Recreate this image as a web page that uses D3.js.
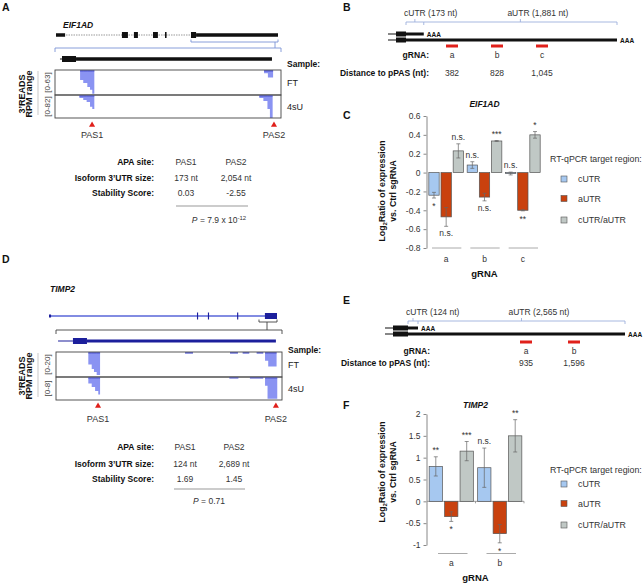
<!DOCTYPE html>
<html>
<head>
<meta charset="utf-8">
<script src="https://cdn.jsdelivr.net/npm/d3@7"></script>
<style>
  body { margin: 0; background: #fff; }
  svg text { font-family: "Liberation Sans", Arial, Helvetica, sans-serif; }
</style>
</head>
<body>
<svg id="fig" width="644" height="583"></svg>
<script>
// ---------- data ----------
// gene models, [start %, end %, part] along the locus
var eifGene = [[0, 4.1, "utr"], [29.7, 32.4, "cds"], [35.1, 36.9, "cds"], [43.7, 45.9, "cds"],
               [49.1, 49.8, "cds"], [60.8, 63.1, "cds"], [63.1, 100, "utr"]];
var eifTx = [[2.2, 3.1, "line"], [3.1, 9.3, "cds"], [9.3, 96.0, "utr"]];
var timpGene = [[0, 0.9, "utr"], [64.9, 65.4, "tick"], [69.7, 70.2, "tick"], [82.5, 83.0, "tick"], [94.7, 100, "cds"]];
var timpTx = [[0.9, 7.5, "line"], [7.5, 13.7, "cds"], [13.7, 97.3, "utr"]];

// 3'READS coverage, [start %, end %, RPM]
var eifFT = [[11.1, 12.5, 25], [12.5, 14.3, 33], [14.3, 15.5, 43], [15.5, 16.5, 50], [16.5, 17.4, 60],
             [92.5, 94.2, 8], [94.2, 96.5, 19]];
var eif4sU = [[10.8, 12.5, 11], [12.5, 14.0, 18], [14.0, 15.5, 25], [15.5, 16.5, 42], [16.5, 17.4, 50],
              [90.4, 92.2, 11], [92.2, 94.0, 21], [94.0, 95.1, 50], [95.1, 96.3, 82]];
var timpFT = [[14.3, 15.8, 10], [15.8, 16.8, 13.6], [16.8, 18.0, 16], [18.0, 19.5, 18.4],
              [57.1, 60.6, 1], [77.0, 80.5, 1], [82.6, 85.5, 1], [88.8, 91.7, 1],
              [92.5, 93.9, 7], [93.9, 97.6, 11.5]];
var timp4sU = [[14.3, 15.8, 2.3], [15.8, 17.3, 3.5], [17.3, 18.7, 4.9], [18.7, 19.5, 6.1],
               [76.7, 80.7, 0.3], [85.8, 91.7, 0.3], [92.5, 93.6, 3], [93.6, 97.9, 7.6]];
var eifPAS = [16.4, 96.9];
var timpPAS = [18.6, 97.3];

// APA tables
var tableRows = ["APA site:", "Isoform 3\u2019UTR size:", "Stability Score:"];
var eifTable = [["PAS1", "PAS2"], ["173 nt", "2,054 nt"], ["0.03", "-2.55"]];
var timpTable = [["PAS1", "PAS2"], ["124 nt", "2,689 nt"], ["1.69", "1.45"]];

// 3'UTR diagrams
var eifUTR = [173, 1881];
var eifGuides = ["a", "b", "c"];
var eifGuideDist = [382, 828, 1045];
var timpUTR = [124, 2565];
var timpGuides = ["a", "b"];
var timpGuideDist = [935, 1596];

// RT-qPCR
var regions = ["cUTR", "aUTR", "cUTR/aUTR"];
var eifCUTR = [-0.24, 0.08, -0.01];
var eifAUTR = [-0.47, -0.26, -0.40];
var eifRatio = [0.23, 0.335, 0.40];
var eifCUTRErr = [0.03, 0.035, 0.015];
var eifAUTRErr = [0.10, 0.04, 0.006];
var eifRatioErr = [0.075, 0.005, 0.035];
var eifCUTRSig = ["*", "n.s.", "n.s."];
var eifAUTRSig = ["n.s.", "n.s.", "**"];
var eifRatioSig = ["n.s.", "***", "*"];
var eifTicks = [0.6, 0.4, 0.2, 0, -0.2, -0.4, -0.6, -0.8];

var timpCUTR = [0.80, 0.77];
var timpAUTR = [-0.35, -0.74];
var timpRatio = [1.15, 1.50];
var timpCUTRErr = [0.22, 0.45];
var timpAUTRErr = [0.11, 0.21];
var timpRatioErr = [0.22, 0.37];
var timpCUTRSig = ["**", "n.s."];
var timpAUTRSig = ["*", "*"];
var timpRatioSig = ["***", "**"];
var timpTicks = [2, 1.5, 1, 0.5, 0, -0.5, -1];

var regionColors = ["#a6c8f0", "#c9410e", "#c0c8c5"];

// ---------- drawing ----------
var svg = d3.select("#fig");

function label(x, y, s, o) {
    o = o || {};
    var t = svg.append("text")
        .attr("x", x)
        .attr("y", y)
        .attr("font-size", o.size || 8.5)
        .attr("font-weight", o.bold ? "bold" : "normal")
        .attr("font-style", o.italic ? "italic" : "normal")
        .attr("text-anchor", o.anchor || "start")
        .attr("fill", o.fill || "#222")
        .text(s);
    if (o.rotate) t.attr("transform", "rotate(-90," + x + "," + y + ")");
    return t;
}

// panel letters
[["A", 2, 11], ["B", 343, 11], ["C", 343, 119], ["D", 2, 263], ["E", 343, 304], ["F", 343, 409]]
    .forEach(function (d) {
        label(d[1], d[2], d[0], {size: 10.5, bold: true, fill: "#111"});
    });

// turn [start, end, value] segments into step points for an area
function stepPoints(segs) {
    var pts = [];
    segs.forEach(function (s, i) {
        pts.push([s[0], s[2]]);
        var next = segs[i + 1];
        if (!next || next[0] > s[1]) pts.push([s[1], 0]);
    });
    return pts;
}

function drawLocus(c) {
    var gx = d3.scaleLinear().domain([0, 100]).range(c.geneRange);
    var tx = d3.scaleLinear().domain([0, 100]).range(c.trackRange);
    var g = svg.append("g");

    label(c.titleX, c.titleY, c.title, {bold: true, italic: true, fill: "#111"});

    // whole gene
    var intron = g.append("line")
        .attr("x1", gx(0)).attr("x2", gx(100))
        .attr("y1", c.geneY).attr("y2", c.geneY)
        .attr("stroke", c.intronColor)
        .attr("stroke-width", c.intronWidth);
    if (c.intronDash) intron.attr("stroke-dasharray", c.intronDash);

    g.selectAll(".exon")
        .data(c.gene)
        .enter()
        .append("rect")
        .attr("x", function (d) { return gx(d[0]); })
        .attr("width", function (d) { return Math.max(1, gx(d[1]) - gx(d[0])); })
        .attr("y", function (d) { return c.geneY - c.h[d[2]] / 2; })
        .attr("height", function (d) { return c.h[d[2]]; })
        .attr("fill", c.color);

    // zoom brackets
    var sb0 = gx(c.zoomPart[0]), sb1 = gx(c.zoomPart[1]);
    g.append("path")
        .attr("d", "M" + sb0 + "," + (c.smallY - 2.5) + "V" + c.smallY + "H" + sb1 + "V" + (c.smallY - 2.5) +
            "M" + c.connectX + "," + c.smallY + "V" + c.bigY +
            "M" + tx(0) + "," + (c.bigY + 4) + "V" + c.bigY + "H" + tx(100) + "V" + (c.bigY + 4))
        .attr("fill", "none")
        .attr("stroke", c.bracketColor)
        .attr("stroke-width", 0.9);

    // zoomed transcript
    g.selectAll(".txpart")
        .data(c.tx)
        .enter()
        .append("rect")
        .attr("x", function (d) { return tx(d[0]); })
        .attr("width", function (d) { return tx(d[1]) - tx(d[0]); })
        .attr("y", function (d) { return c.txY - c.h[d[2]] / 2; })
        .attr("height", function (d) { return c.h[d[2]]; })
        .attr("fill", c.color);

    label(c.trackRange[1] + 6, c.sampleY, "Sample:", {bold: true, fill: "#111"});

    // tracks
    c.tracks.forEach(function (t) {
        var y = d3.scaleLinear().domain([0, t.max]).range([t.y0, t.y1]);
        var area = d3.area()
            .curve(d3.curveStepAfter)
            .x(function (d) { return tx(d[0]); })
            .y0(t.y0)
            .y1(function (d) { return d[1] > 0 ? Math.max(t.y0 + 1, y(d[1])) : t.y0; });
        g.append("path")
            .datum(stepPoints(t.data))
            .attr("d", area)
            .attr("fill", "#8a93f2");
        g.selectAll(".top-" + t.name)
            .data(t.data)
            .enter()
            .append("rect")
            .attr("x", function (d) { return tx(d[0]); })
            .attr("width", function (d) { return tx(d[1]) - tx(d[0]); })
            .attr("y", t.y0 + 0.5)
            .attr("height", 1)
            .attr("fill", "#4a50cc");
        g.append("rect")
            .attr("x", tx(0)).attr("y", t.y0)
            .attr("width", tx(100) - tx(0)).attr("height", t.y1 - t.y0)
            .attr("fill", "none")
            .attr("stroke", "#444")
            .attr("stroke-width", 0.9);
        label(c.trackRange[1] + 6, (t.y0 + t.y1) / 2 + 3, t.name, {size: 9});
        label(49.5, (t.y0 + t.y1) / 2, "[0-" + t.max + "]", {size: 8, anchor: "middle", rotate: true, fill: "#444"});
    });

    var top = c.tracks[0].y0, bot = c.tracks[c.tracks.length - 1].y1, mid = (top + bot) / 2;
    g.append("line")
        .attr("x1", 38).attr("x2", 38)
        .attr("y1", top + 1).attr("y2", bot - 3)
        .attr("stroke", "#bbb")
        .attr("stroke-width", 0.8);
    label(24.5, mid, "3\u2019READS", {size: 9, bold: true, anchor: "middle", rotate: true, fill: "#111"});
    label(31.5, mid, "RPM range", {size: 9, bold: true, anchor: "middle", rotate: true, fill: "#111"});

    // PAS triangles
    g.selectAll(".pas")
        .data(c.pas)
        .enter()
        .append("path")
        .attr("d", d3.symbol().type(d3.symbolTriangle).size(16))
        .attr("transform", function (d) { return "translate(" + tx(d) + "," + c.pasY + ")"; })
        .attr("fill", "#e0201b");
    c.pas.forEach(function (d, i) {
        label(tx(d), c.pasLabelY, "PAS" + (i + 1), {size: 9, anchor: "middle", fill: "#333"});
    });

    // APA table
    tableRows.forEach(function (r, i) {
        label(154, c.rowY[i], r, {bold: true, anchor: "end", fill: "#111"});
        c.table[i].forEach(function (v, j) {
            label(c.colX[j], c.rowY[i], v, {anchor: "middle", fill: "#333"});
        });
    });
    g.append("line")
        .attr("x1", c.ruleX[0]).attr("x2", c.ruleX[1])
        .attr("y1", c.ruleY).attr("y2", c.ruleY)
        .attr("stroke", "#999")
        .attr("stroke-width", 1.2);
    var p = label(c.pX, c.pY, "", {anchor: "middle", fill: "#333"});
    p.append("tspan").attr("font-style", "italic").text("P");
    p.append("tspan").text(" = " + c.pText);
    if (c.pExp) {
        p.append("tspan").attr("font-size", 6).attr("dy", -3.5).text(c.pExp);
    }
}

drawLocus({
    title: "EIF1AD", titleX: 63, titleY: 28,
    gene: eifGene, tx: eifTx,
    geneRange: [56, 278], trackRange: [55, 281],
    geneY: 35, txY: 59,
    color: "#111", intronColor: "#999", intronWidth: 1, intronDash: "1.5,1",
    h: {utr: 3.5, cds: 6, line: 1, tick: 6},
    zoomPart: [60.8, 100], smallY: 42, connectX: 275, bigY: 48, bracketColor: "#7b93d6",
    sampleY: 66.5,
    tracks: [{name: "FT", max: 63, data: eifFT, y0: 70, y1: 95},
             {name: "4sU", max: 82, data: eif4sU, y0: 95, y1: 118}],
    pas: eifPAS, pasY: 125, pasLabelY: 137.5,
    table: eifTable, rowY: [165, 181, 196], colX: [186, 236],
    ruleX: [176, 248], ruleY: 206,
    pX: 219, pY: 223, pText: "7.9 x 10", pExp: "-12"
});

drawLocus({
    title: "TIMP2", titleX: 50, titleY: 292,
    gene: timpGene, tx: timpTx,
    geneRange: [49, 277], trackRange: [56, 282],
    geneY: 316, txY: 341,
    color: "#1c1f9c", intronColor: "#5866d8", intronWidth: 1.6, intronDash: null,
    h: {utr: 3, cds: 6, line: 1, tick: 7},
    zoomPart: [92.1, 100], smallY: 322, connectX: 267, bigY: 330, bracketColor: "#444",
    sampleY: 352.5,
    tracks: [{name: "FT", max: 20, data: timpFT, y0: 352, y1: 377},
             {name: "4sU", max: 8, data: timp4sU, y0: 377, y1: 400}],
    pas: timpPAS, pasY: 406, pasLabelY: 422,
    table: timpTable, rowY: [450, 467, 482], colX: [185, 234],
    ruleX: [174, 245], ruleY: 489,
    pX: 209, pY: 504, pText: "0.71", pExp: null
});

// ---------- 3'UTR diagrams ----------
function drawUTR(c) {
    var g = svg.append("g");
    var total = c.utr[0] + c.utr[1];
    var u = d3.scaleLinear().domain([0, total]).range(c.utrRange);
    var gp = d3.scalePoint().domain(c.guides).range(c.guideRange);
    var x0 = u(0), xc = u(c.utr[0]), x1 = u(total), xm = u(c.utr[0] + c.utr[1] / 2);

    // brackets
    g.append("path")
        .attr("d", "M" + x0 + "," + (c.brY + 3) + "V" + c.brY + "H" + xc + "V" + (c.brY + 3) +
            "M" + ((x0 + xc) / 2) + "," + c.brY + "V" + (c.brY - 3) +
            "M" + xc + "," + c.brY + "H" + x1 + "V" + (c.brY + 3) +
            "M" + xm + "," + c.brY + "V" + (c.brY - 3))
        .attr("fill", "none")
        .attr("stroke", "#9db0dc")
        .attr("stroke-width", 0.9);
    label(x0 - 2, c.brY - 6, "cUTR (" + d3.format(",")(c.utr[0]) + " nt)", {fill: "#333"});
    label(xm - 13, c.brY - 6, "aUTR (" + d3.format(",")(c.utr[1]) + " nt)", {fill: "#333"});

    // isoforms
    [[c.shortY, c.utr[0]], [c.longY, total]].forEach(function (iso) {
        g.append("rect").attr("x", x0 - c.cdsW - 8).attr("y", iso[0] - 0.5)
            .attr("width", 8).attr("height", 1).attr("fill", "#111");
        g.append("rect").attr("x", x0 - c.cdsW).attr("y", iso[0] - 2.5)
            .attr("width", c.cdsW).attr("height", 5).attr("fill", "#111");
        g.append("rect").attr("x", x0).attr("y", iso[0] - 1.5)
            .attr("width", u(iso[1]) - x0).attr("height", 3).attr("fill", "#111");
        svg.append("text")
            .attr("x", u(iso[1]) + 3).attr("y", iso[0] + 2.5)
            .attr("font-size", 6.5).attr("font-weight", "bold")
            .attr("font-family", "\"Liberation Serif\", \"Times New Roman\", serif")
            .attr("fill", "#111").text("AAA");
    });

    // gRNA positions
    g.selectAll(".guide")
        .data(c.guides)
        .enter()
        .append("rect")
        .attr("x", function (d) { return gp(d) - 6; })
        .attr("y", c.redY - 1.5)
        .attr("width", 12)
        .attr("height", 3)
        .attr("fill", "#e0201b");
    label(c.labelX, c.gY, "gRNA:", {bold: true, anchor: "end", fill: "#111"});
    label(c.labelX, c.dY, "Distance to pPAS (nt):", {bold: true, anchor: "end", fill: "#111"});
    c.guides.forEach(function (d, i) {
        label(gp(d), c.gY, d, {anchor: "middle", fill: "#333"});
        label(gp(d), c.dY, d3.format(",")(c.dist[i]), {anchor: "middle", fill: "#333"});
    });
}

drawUTR({
    utr: eifUTR, guides: eifGuides, dist: eifGuideDist,
    utrRange: [406, 617], guideRange: [452, 542], cdsW: 10,
    brY: 22, shortY: 34, longY: 40, redY: 46, gY: 58, dY: 76, labelX: 429
});
drawUTR({
    utr: timpUTR, guides: timpGuides, dist: timpGuideDist,
    utrRange: [408, 625], guideRange: [526, 574], cdsW: 15,
    brY: 321, shortY: 328, longY: 334, redY: 342, gY: 354, dY: 366, labelX: 430
});

// ---------- RT-qPCR bar charts ----------
function drawBars(c) {
    var g = svg.append("g");
    var y = d3.scaleLinear().domain(c.yDomain).range(c.yRange);
    var x0 = d3.scaleBand().domain(c.guides).range(c.xRange);
    var x1 = d3.scaleBand().domain(regions).range([0, x0.bandwidth()])
        .paddingInner(c.pad).paddingOuter(c.pad);

    var rows = [];
    c.guides.forEach(function (gd, i) {
        regions.forEach(function (r, j) {
            rows.push({guide: gd, region: r, k: j, v: c.values[j][i], e: c.errors[j][i], s: c.sig[j][i]});
        });
    });

    label((c.xRange[0] + c.xRange[1]) / 2, c.titleY, c.title, {bold: true, italic: true, anchor: "middle", fill: "#111"});

    if (c.zeroLine) {
        g.append("path")
            .attr("d", "M" + c.xRange[0] + "," + y(0) + "H" + c.xRange[1] + "V" + (y(0) + 2) +
                "M" + x0(c.guides[1]) + "," + y(0) + "V" + (y(0) + 2))
            .attr("fill", "none").attr("stroke", "#888").attr("stroke-width", 0.8);
    }

    var yAxis = d3.axisLeft(y)
        .tickValues(c.ticks)
        .tickSize(3)
        .tickSizeOuter(0)
        .tickPadding(3)
        .tickFormat(function (d) { return String(d); });
    var ag = g.append("g")
        .attr("transform", "translate(" + (c.xRange[0] - 0.5) + ",0)")
        .call(yAxis);
    ag.select(".domain").attr("stroke", "#888");
    ag.selectAll(".tick line").attr("stroke", "#888");
    ag.selectAll(".tick text")
        .attr("font-size", 8.5)
        .attr("fill", "#333")
        .attr("font-family", "\"Liberation Sans\", Arial, sans-serif");

    var bars = g.selectAll(".bars")
        .data(rows)
        .enter()
        .append("g")
        .attr("class", "bars");

    bars.append("rect")
        .attr("x", function (d) { return x0(d.guide) + x1(d.region); })
        .attr("y", function (d) { return y(Math.max(d.v, 0)); })
        .attr("width", x1.bandwidth())
        .attr("height", function (d) { return Math.abs(y(d.v) - y(0)); })
        .attr("fill", function (d) { return regionColors[d.k]; })
        .attr("stroke", "#555")
        .attr("stroke-width", 0.7);

    bars.append("path")
        .attr("d", function (d) {
            var cx = x0(d.guide) + x1(d.region) + x1.bandwidth() / 2;
            var t = y(d.v + d.e), b = y(d.v - d.e);
            return "M" + cx + "," + t + "V" + b +
                "M" + (cx - 2) + "," + t + "H" + (cx + 2) +
                "M" + (cx - 2) + "," + b + "H" + (cx + 2);
        })
        .attr("fill", "none")
        .attr("stroke", "#666")
        .attr("stroke-width", 0.7);

    bars.append("text")
        .attr("x", function (d) { return x0(d.guide) + x1(d.region) + x1.bandwidth() / 2; })
        .attr("y", function (d) {
            if (d.v > -0.05) return y(d.v + d.e) - 4;
            return y(d.v - d.e) + (d.s === "n.s." ? 10 : 11);
        })
        .attr("text-anchor", "middle")
        .attr("font-size", 8.5)
        .attr("fill", "#333")
        .text(function (d) { return d.s; });

    // gRNA group lines and labels
    c.guides.forEach(function (gd) {
        g.append("line")
            .attr("x1", x0(gd) + c.lineInset[0])
            .attr("x2", x0(gd) + x0.bandwidth() - c.lineInset[1])
            .attr("y1", c.groupLineY).attr("y2", c.groupLineY)
            .attr("stroke", "#aaa").attr("stroke-width", 1);
        label(x0(gd) + x0.bandwidth() / 2, c.groupLabelY, gd, {anchor: "middle", fill: "#333"});
    });
    label((c.xRange[0] + c.xRange[1]) / 2, c.gRNAY, "gRNA", {size: 9.5, bold: true, anchor: "middle", fill: "#111"});

    // y axis title
    var yl = label(385, c.yLabelY, "", {size: 8.8, bold: true, anchor: "middle", rotate: true, fill: "#111"});
    yl.append("tspan").text("Log");
    yl.append("tspan").attr("font-size", 6).attr("dy", 2).text("2");
    yl.append("tspan").attr("dy", -2).text("Ratio of expression");
    label(396, c.yLabelY, "vs. Ctrl sgRNA", {size: 8.8, bold: true, anchor: "middle", rotate: true, fill: "#111"});

    // legend
    label(550, c.legendTitleY, "RT-qPCR target region:", {size: 8.8, fill: "#333"});
    regions.forEach(function (r, j) {
        g.append("rect")
            .attr("x", 561).attr("y", c.legendY[j] - 3)
            .attr("width", 6).attr("height", 6)
            .attr("fill", regionColors[j])
            .attr("stroke", "#555").attr("stroke-width", 0.6);
        label(578, c.legendY[j] + 3, r, {size: 8.8, fill: "#333"});
    });
}

drawBars({
    title: "EIF1AD", titleY: 107,
    guides: eifGuides,
    values: [eifCUTR, eifAUTR, eifRatio],
    errors: [eifCUTRErr, eifAUTRErr, eifRatioErr],
    sig: [eifCUTRSig, eifAUTRSig, eifRatioSig],
    yDomain: [-0.8, 0.6], yRange: [248, 116], ticks: eifTicks,
    xRange: [427, 542], pad: 0.15, zeroLine: false,
    groupLineY: 248, lineInset: [5, 4], groupLabelY: 262, gRNAY: 277,
    yLabelY: 191,
    legendTitleY: 162, legendY: [179, 198.5, 220]
});

drawBars({
    title: "TIMP2", titleY: 408,
    guides: timpGuides,
    values: [timpCUTR, timpAUTR, timpRatio],
    errors: [timpCUTRErr, timpAUTRErr, timpRatioErr],
    sig: [timpCUTRSig, timpAUTRSig, timpRatioSig],
    yDomain: [-1, 2], yRange: [545, 414], ticks: timpTicks,
    xRange: [427, 524], pad: 0.14, zeroLine: true,
    groupLineY: 553.5, lineInset: [11, 8], groupLabelY: 566, gRNAY: 581,
    yLabelY: 472,
    legendTitleY: 473, legendY: [484, 503.5, 525]
});
</script>
</body>
</html>
